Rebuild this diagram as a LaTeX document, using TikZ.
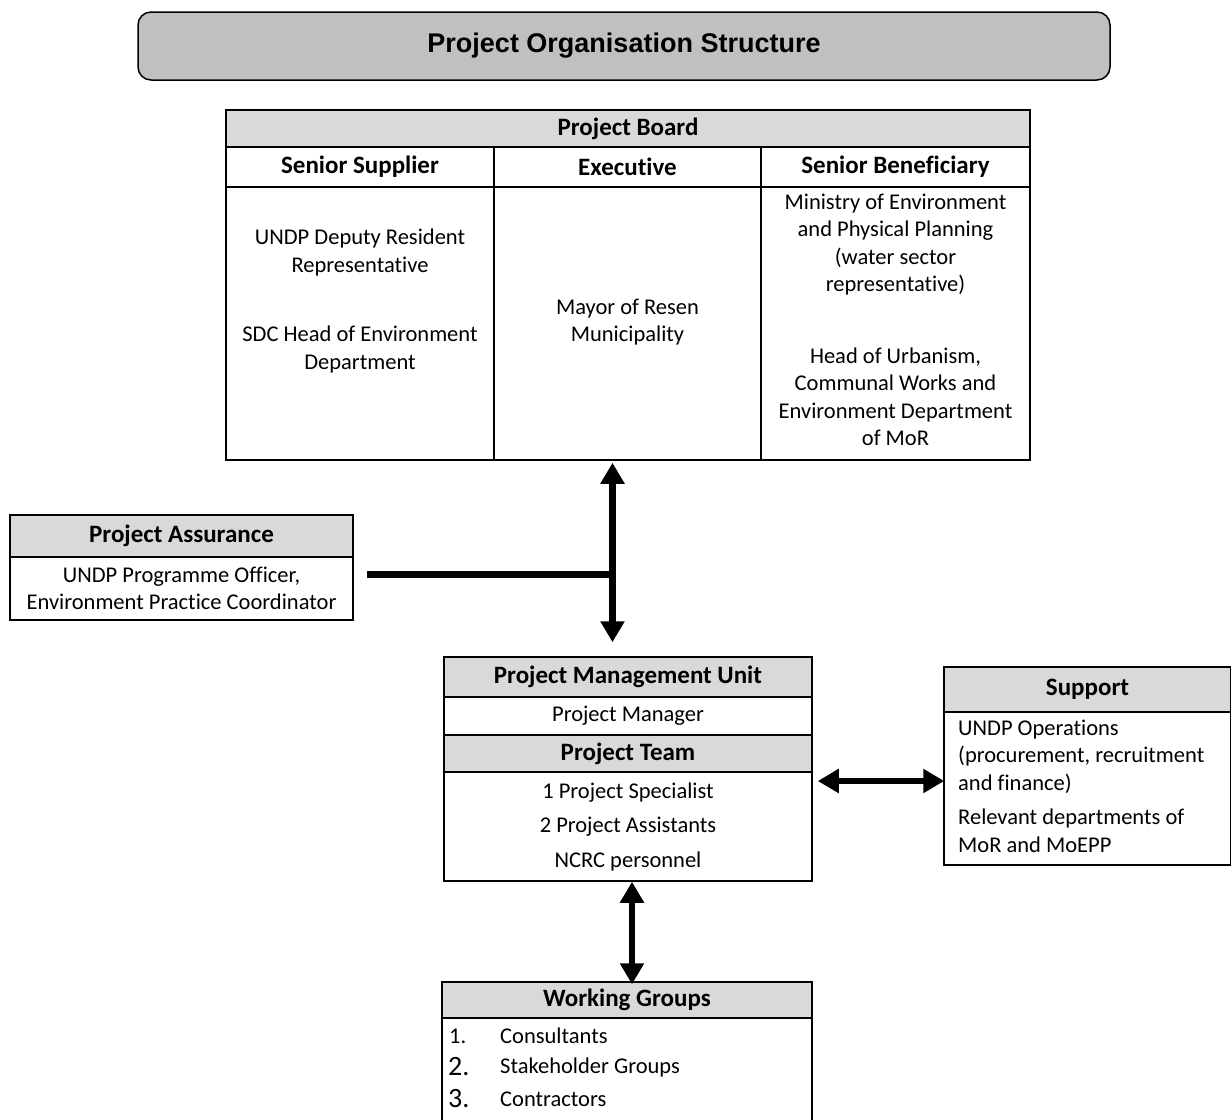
\documentclass[tikz,border=0pt]{standalone}
\usepackage{fontspec}
\setmainfont[Ligatures=NoCommon]{Carlito}
\newfontfamily\titlefont{Liberation Sans}
\usetikzlibrary{arrows.meta,positioning}
\definecolor{titlegray}{HTML}{C0C0C0}
\definecolor{headgray}{HTML}{D9D9D9}

\begin{document}
\begin{tikzpicture}[x=1pt, y=-1pt,
	every node/.style={font=\fontsize{22.5}{27.5}\selectfont},
	box/.style={draw, line width=1.5pt, inner sep=0pt, align=center},
	head/.style={box, fill=headgray, font=\fontsize{25}{28}\selectfont\bfseries},
	role/.style={box, fill=white, font=\fontsize{25}{28}\selectfont\bfseries},
	cell/.style={box, fill=white},
	txt/.style={inner sep=0pt, align=center},
	both/.style={line width=6.5pt, {Triangle[width=23pt,length=21pt]}-{Triangle[width=23pt,length=21pt]}},
	bar/.style={line width=7pt}]
	\useasboundingbox (0,0) rectangle (1231,1119);
	
	% title
	\node[box, rounded corners=13pt, fill=titlegray, minimum width=972pt, minimum height=68pt, font=\titlefont\fontsize{27}{32}\selectfont\bfseries] (title) at (624,46) {Project Organisation Structure};
	
	% project board
	\node[head, minimum width=804pt, minimum height=37pt] (board) at (628,128.5) {Project Board};
	\node[role, minimum width=268pt, minimum height=40pt] (supplier) at (360,167) {Senior Supplier};
	\node[role, minimum width=267pt, minimum height=40pt] (executive) at (627.5,167) {Executive};
	\node[role, minimum width=269pt, minimum height=40pt] (beneficiary) at (895.5,167) {Senior Beneficiary};
	\node[cell, minimum width=268pt, minimum height=273pt] (supbody) at (360,323.5) {};
	\node[cell, minimum width=267pt, minimum height=273pt] (execbody) at (627.5,323.5) {};
	\node[cell, minimum width=269pt, minimum height=273pt] (benbody) at (895.5,323.5) {};
	\node[txt] (undp) at (360,252.5) {UNDP Deputy Resident\\Representative};
	\node[txt] (sdc) at (360,349.5) {SDC Head of Environment\\Department};
	\node[txt] (mayor) at (627.5,322) {Mayor of Resen\\Municipality};
	\node[txt] (moepp) at (895.5,244.5) {Ministry of Environment\\and Physical Planning\\(water sector\\representative)};
	\node[txt] (urban) at (895.5,397) {Head of Urbanism,\\Communal Works and\\Environment Department\\of MoR};
	
	% project assurance
	\node[head, minimum width=343pt, minimum height=42pt] (assurance) at (181.5,536) {Project Assurance};
	\node[cell, minimum width=343pt, minimum height=63pt] (assbody) at (181.5,588.5) {UNDP Programme Officer,\\Environment Practice Coordinator};
	
	% project management unit
	\node[head, minimum width=368pt, minimum height=40pt] (pmu) at (628,677) {Project Management Unit};
	\node[cell, minimum width=368pt, minimum height=38pt] (manager) at (628,716) {Project Manager};
	\node[head, minimum width=368pt, minimum height=37pt] (team) at (628,753.5) {Project Team};
	\node[cell, minimum width=368pt, minimum height=109pt] (teambody) at (628,826.5) {1 Project Specialist\\[7pt]2 Project Assistants\\[7pt]NCRC personnel};
	
	% support
	\node[head, minimum width=287pt, minimum height=45pt] (support) at (1087.5,689.5) {Support};
	\node[cell, minimum width=287pt, minimum height=153pt] (supportbody) at (1087.5,788.5) {};
	\node[txt, align=left, anchor=west] (operations) at (958,786) {UNDP Operations\\(procurement, recruitment\\and finance)\\[7pt]Relevant departments of\\MoR and MoEPP};
	
	% working groups
	\node[head, minimum width=370pt, minimum height=36pt] (working) at (627,1000) {Working Groups};
	\node[cell, minimum width=370pt, minimum height=112pt] (workbody) at (627,1074) {};
	\node[txt, anchor=west] (n1) at (449,1036) {1.};
	\node[txt, anchor=west, font=\fontsize{28}{30}\selectfont] (n2) at (448,1067) {2.};
	\node[txt, anchor=west, font=\fontsize{28}{30}\selectfont] (n3) at (448,1099) {3.};
	\node[txt, anchor=west] (consultants) at (500,1036) {Consultants};
	\node[txt, anchor=west] (stakeholders) at (500,1067) {Stakeholder Groups};
	\node[txt, anchor=west] (contractors) at (500,1099) {Contractors};
	
	% links
	\coordinate (junction) at (610,574);
	\draw[both, shorten <=2pt] ([xshift=-15pt]execbody.south) -- ([xshift=-15.5pt,yshift=14pt]pmu.north);
	\draw[bar] ([xshift=13pt]assbody.east |- junction) -- (junction);
	\draw[both] ([xshift=5pt,yshift=45.5pt]teambody.east) -- ([xshift=1pt,yshift=7.5pt]supportbody.west);
	\draw[both] ([xshift=4pt]teambody.south) -- ([xshift=5pt,yshift=-3pt]working.north);
\end{tikzpicture}
\end{document}
